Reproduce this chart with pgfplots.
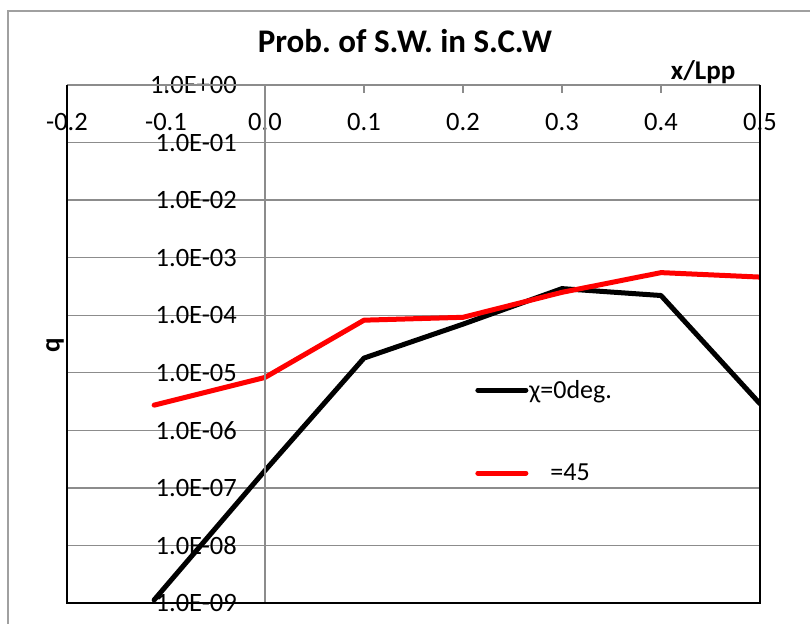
\documentclass[border=0pt]{standalone}
\usepackage{pgfplots}
\pgfplotsset{compat=1.18}
\usepackage{fontspec}
\setmainfont{Carlito}
\frenchspacing
\definecolor{gridgray}{RGB}{140,140,140}
\definecolor{bordergray}{RGB}{160,160,160}
\begin{document}
\begin{tikzpicture}
\useasboundingbox (-67pt,-20pt) rectangle (743pt,603pt);
\draw[bordergray, line width=1.2pt] (-59pt,-40pt) -- (-59pt,592pt) -- (760pt,592pt);
\begin{axis}[
  at={(0pt,0pt)}, anchor=south west,
  scale only axis, width=693pt, height=518pt,
  xmin=-0.2, xmax=0.5, ymode=log, ymin=1e-9, ymax=1,
  clip mode=individual,
  axis line style={draw=none},
  xtick={-0.2,-0.1,0,0.1,0.2,0.3,0.4,0.5},
  xticklabels={-0.2,-0.1,0.0,0.1,0.2,0.3,0.4,0.5},
  xtick pos=right, xticklabel pos=right,
  tick align=inside, major tick length=8pt,
  xtick style={gridgray, line width=1.2pt},
  ytick={1e-9,1e-8,1e-7,1e-6,1e-5,1e-4,1e-3,1e-2,1e-1,1},
  yticklabels={1.0E-09,1.0E-08,1.0E-07,1.0E-06,1.0E-05,1.0E-04,1.0E-03,1.0E-02,1.0E-01,1.0E+00},
  ytick style={draw=none},
  yminorticks=false,
  ymajorgrids, grid style={gridgray, line width=1.3pt},
  ticklabel style={font=\fontsize{26.5}{31}\selectfont},
  yticklabel style={anchor=east, inner sep=0pt, xshift=170pt},
  xticklabel style={anchor=center, inner sep=0pt, yshift=-37pt},
  title={Prob. of S.W. in S.C.W},
  title style={at={(axis description cs:0.4877,1.0734)}, anchor=center, inner sep=0pt, font=\bfseries\fontsize{33}{38}\selectfont},
  xlabel={x/Lpp},
  xlabel style={at={(axis description cs:0.918,1.025)}, anchor=center, inner sep=0pt, font=\bfseries\fontsize{27}{32}\selectfont},
  ylabel={q},
  ylabel style={at={(axis description cs:-0.0173,0.498)}, anchor=center, inner sep=0pt, font=\bfseries\fontsize{27}{32}\selectfont},
  legend style={at={(axis description cs:0.589,0.432)}, anchor=north west, draw=none, fill=none, inner sep=0pt,
    row sep=62pt, font=\fontsize{26}{31}\selectfont, nodes={inner sep=1pt}},
  legend cell align=left,
  legend image code/.code={\draw[#1] (0pt,0pt) -- (48pt,0pt);},
]
\addplot[black, line width=5pt, line cap=round, line join=round] coordinates {
  (-0.112,1.13e-9) (0,2.0e-7) (0.1,1.8e-5) (0.2,7.0e-5) (0.3,2.9e-4) (0.4,2.2e-4) (0.5,2.9e-6)};
\addlegendentry{χ=0deg.}
\addplot[red, line width=5pt, line cap=round, line join=round] coordinates {
  (-0.112,2.74e-6) (0,8.3e-6) (0.1,8.2e-5) (0.2,9.2e-5) (0.3,2.5e-4) (0.4,5.5e-4) (0.5,4.6e-4)};
\addlegendentry{\hspace*{21pt}=45}
\draw[gridgray, line width=1.3pt] (axis cs:0,1e-9) -- (axis cs:0,1);
\draw[gridgray, line width=1.3pt] (rel axis cs:0,1) -- (rel axis cs:1,1);
\draw[black, line width=1.8pt] (rel axis cs:0,1) -- (rel axis cs:0,0) -- (rel axis cs:1,0) -- (rel axis cs:1,1);
\end{axis}
\end{tikzpicture}
\end{document}
